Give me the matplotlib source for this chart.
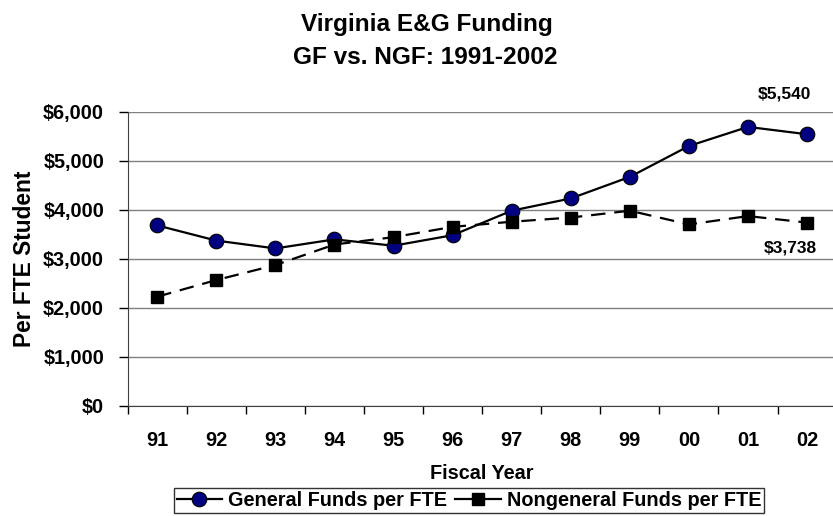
import matplotlib
matplotlib.use("Agg")
import matplotlib.pyplot as plt
from matplotlib.ticker import FuncFormatter, FixedLocator, NullFormatter

plt.rcParams['font.family'] = ['Liberation Sans', 'DejaVu Sans']
plt.rcParams['font.weight'] = 'bold'

# data
years = ["91", "92", "93", "94", "95", "96", "97", "98", "99", "00", "01", "02"]
gf = [3680, 3370, 3210, 3395, 3265, 3480, 3980, 4230, 4670, 5300, 5690, 5540]
ngf = [2225, 2565, 2870, 3290, 3440, 3650, 3755, 3840, 3980, 3700, 3870, 3738]

fig = plt.figure(figsize=(8.33, 5.16), dpi=100)
ax = fig.add_axes([0.1533, 0.2137, 0.851, 0.5698])

x = list(range(len(years)))
ax.plot(x, gf, '-', color='black', lw=1.6, marker='o', ms=10.5,
        mfc='#000080', mec='black', mew=0.8, label='General Funds per FTE', zorder=3)
ax.plot(x, ngf, '--', color='black', lw=1.6, dashes=(6.5, 4), marker='s', ms=9,
        mfc='black', mec='black', label='Nongeneral Funds per FTE', zorder=3)

ax.set_xlim(-0.5, len(years) - 0.5)
ax.set_ylim(0, 6000)
ax.set_yticks(range(0, 6001, 1000))
ax.yaxis.set_major_formatter(FuncFormatter(lambda v, p: f"${int(v):,}"))
ax.set_xticks(x)
ax.set_xticklabels(years)
ax.xaxis.set_minor_locator(FixedLocator([i - 0.5 for i in range(len(years) + 1)]))
ax.xaxis.set_minor_formatter(NullFormatter())
ax.tick_params(axis='x', which='major', length=0, pad=18, labelsize=14.3)
ax.tick_params(axis='x', which='minor', length=5.5, width=1, direction='out')
ax.tick_params(axis='y', length=6.5, width=1, direction='out', labelsize=14.3, pad=10.5)

ax.grid(axis='y', color='#808080', lw=1)
ax.set_axisbelow(True)
for s in ['top', 'right']:
    ax.spines[s].set_visible(False)
ax.spines['left'].set_color('#404040')
ax.spines['bottom'].set_color('#404040')

ax.set_xlabel("Fiscal Year", fontsize=14.3, fontweight='bold', labelpad=10)
ax.set_ylabel("Per FTE Student", fontsize=16.4, fontweight='bold', labelpad=5)

# end labels
ax.annotate(f"${gf[-1]:,}", xy=(x[-1], gf[-1]), xytext=(-16.5, 29), textcoords='offset points',
            ha='center', va='center', fontsize=12.5, fontweight='bold')
ax.annotate(f"${ngf[-1]:,}", xy=(x[-1], ngf[-1]), xytext=(-12, -18), textcoords='offset points',
            ha='center', va='center', fontsize=12.5, fontweight='bold')

fig.text(0.513, 1 - 31 / 516, "Virginia E&G Funding", ha='center', va='baseline',
         fontsize=17.6, fontweight='bold')
fig.text(0.510, 1 - 64 / 516, "GF vs. NGF: 1991-2002", ha='center', va='baseline',
         fontsize=17.6, fontweight='bold')

leg = fig.legend(loc='lower center', bbox_to_anchor=(469 / 833, 3 / 516), ncol=2,
                 fontsize=14.3, frameon=True, fancybox=False, handlelength=2.3,
                 handletextpad=0.3, columnspacing=0.4, borderpad=0.15,
                 borderaxespad=0)
leg.get_frame().set_edgecolor('black')
leg.get_frame().set_linewidth(1)
for h in leg.legend_handles:
    h.set_linestyle('-')

fig.savefig("out.png", dpi=100)
